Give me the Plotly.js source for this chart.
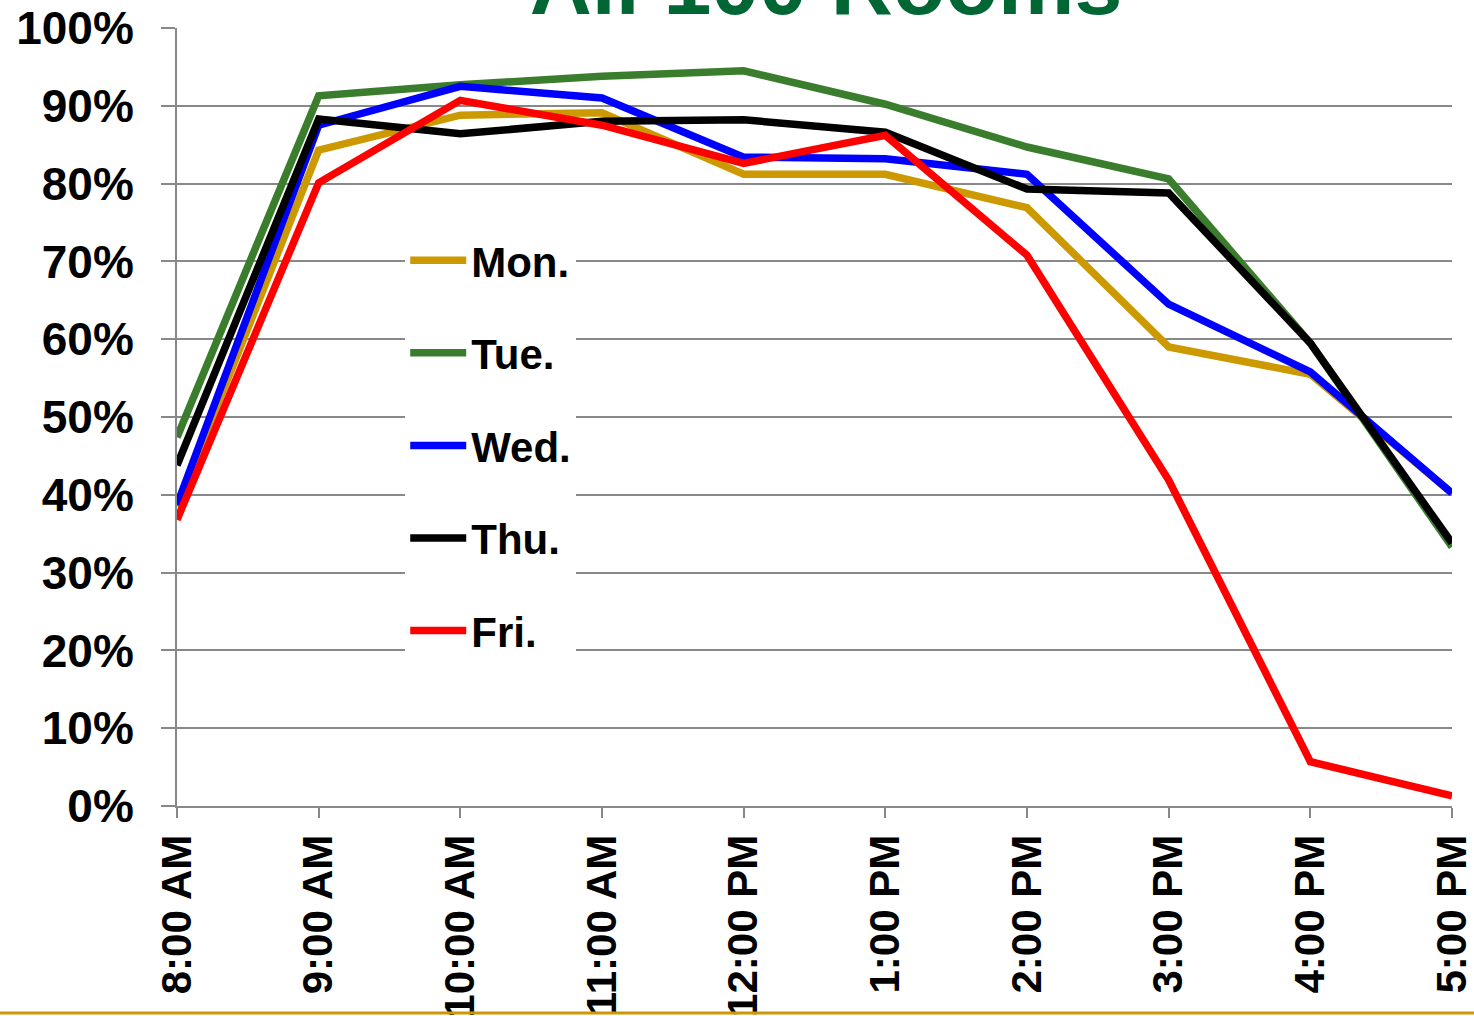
<!DOCTYPE html>
<html>
<head>
<meta charset="utf-8">
<script src="https://cdn.plot.ly/plotly-3.0.1.min.js"></script>
<style>
  html, body { margin: 0; padding: 0; background: #ffffff; }
  #chart { width: 1474px; height: 1016px; }
</style>
</head>
<body>
<div id="chart"></div>
<script>
// Categories (hours of the day)
const hours = ["8:00 AM", "9:00 AM", "10:00 AM", "11:00 AM", "12:00 PM",
               "1:00 PM", "2:00 PM", "3:00 PM", "4:00 PM", "5:00 PM"];

// Utilisation (%) per weekday
const mon = [38.5, 84.3, 88.8, 89.1, 81.2, 81.2, 76.9, 59.0, 55.5, 40.2];
const tue = [47.4, 91.3, 92.7, 93.8, 94.5, 90.2, 84.7, 80.6, 59.5, 33.3];
const wed = [38.7, 87.5, 92.5, 91.0, 83.4, 83.2, 81.2, 64.5, 55.8, 40.2];
const thu = [43.8, 88.3, 86.4, 88.0, 88.2, 86.6, 79.3, 78.8, 59.5, 33.8];
const fri = [36.8, 80.1, 90.7, 87.5, 82.6, 86.2, 70.8, 41.9, 5.7, 1.3];

const seriesNames = ["Mon.", "Tue.", "Wed.", "Thu.", "Fri."];
const seriesValues = [mon, tue, wed, thu, fri];
const seriesColors = ["#CC9900", "#3A7D2C", "#0000FF", "#000000", "#FF0000"];

const yTickVals = [0, 10, 20, 30, 40, 50, 60, 70, 80, 90, 100];
const yTickText = ["0%", "10%", "20%", "30%", "40%", "50%", "60%", "70%", "80%", "90%", "100%"];

const titleText = "All 100 Rooms";

const FONT = "'Liberation Sans', Arial, sans-serif";

const traces = seriesNames.map((name, i) => ({
  type: "scatter",
  mode: "lines",
  name: name,
  x: hours,
  y: seriesValues[i],
  legendgroup: "g" + i,
  line: { color: seriesColors[i], width: 7.5 },
  hoverinfo: "x+y+name"
}));

const layout = {
  width: 1474,
  height: 1016,
  margin: { l: 177, r: 22, t: 28, b: 210, pad: 0 },
  paper_bgcolor: "#ffffff",
  plot_bgcolor: "#ffffff",
  font: { family: FONT, color: "#000000" },
  title: {
    text: "<b>" + titleText + "</b>",
    font: { family: FONT, size: 86, color: "#006633" },
    x: 0.509, xref: "paper", xanchor: "center",
    y: 1.019, yref: "paper", yanchor: "bottom",
    pad: { b: 0 }
  },
  showlegend: true,
  legend: {
    x: 0.179, xanchor: "left",
    y: 0.745, yanchor: "top",
    bgcolor: "#ffffff",
    borderwidth: 0,
    font: { family: FONT, size: 42, color: "#000000", weight: "bold" },
    itemwidth: 56,
    tracegroupgap: 35,
    traceorder: "grouped"
  },
  xaxis: {
    type: "category",
    range: [0, hours.length - 1],
    showgrid: false,
    showline: true,
    linecolor: "#888888",
    linewidth: 2,
    ticks: "outside",
    ticklen: 10,
    tickwidth: 2,
    tickcolor: "#888888",
    tickangle: -90,
    ticklabelstandoff: 0,
    tickfont: { family: FONT, size: 42, color: "#000000", weight: "bold" },
    zeroline: false,
    fixedrange: true
  },
  yaxis: {
    range: [0, 100],
    tickvals: yTickVals,
    ticktext: yTickText,
    showgrid: true,
    gridcolor: "#888888",
    gridwidth: 2,
    showline: true,
    linecolor: "#888888",
    linewidth: 2,
    ticks: "outside",
    ticklen: 14,
    tickwidth: 2,
    tickcolor: "#888888",
    ticklabelstandoff: 18,
    tickfont: { family: FONT, size: 46, color: "#000000", weight: "bold" },
    zeroline: false,
    fixedrange: true
  },
  shapes: [{
    type: "line",
    xref: "paper", yref: "paper",
    x0: -177 / 1275, x1: 1297 / 1275,
    y0: -207 / 778, y1: -207 / 778,
    line: { color: "#CC9900", width: 3 }
  }]
};

Plotly.newPlot("chart", traces, layout, { displayModeBar: false, staticPlot: false });
</script>
</body>
</html>
